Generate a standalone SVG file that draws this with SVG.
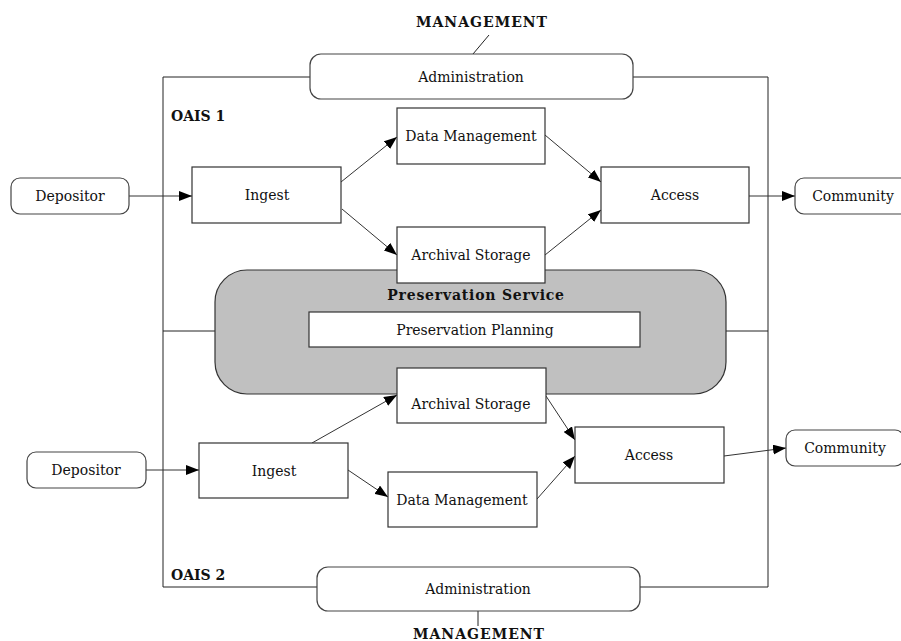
<svg xmlns="http://www.w3.org/2000/svg" width="901" height="641" viewBox="0 0 901 641">
<defs>
<marker id="ah" viewBox="0 0 13 10" refX="13" refY="5" markerWidth="13" markerHeight="10" markerUnits="userSpaceOnUse" orient="auto">
<path d="M0,0 L13,5 L0,10 Z" fill="#000"/>
</marker>
<style>
.bg{fill:#fff}
.box{fill:#fff;stroke:#333;stroke-width:1.2}
.rbox{fill:#fff;stroke:#444;stroke-width:1.2}
.ln{fill:none;stroke:#222;stroke-width:1}
.arr{fill:none;stroke:#333;stroke-width:1;marker-end:url(#ah)}
.t{font-family:"DejaVu Serif","Liberation Serif",serif;font-size:14px;fill:#111;text-anchor:middle}
.b{font-family:"DejaVu Serif","Liberation Serif",serif;font-size:14px;font-weight:bold;fill:#111}
.gray{fill:#c0c0c0;stroke:#333;stroke-width:1.2}
</style>
</defs>
<rect class="bg" x="0" y="0" width="901" height="641"/>
<g id="frame">
<path class="ln" d="M310,77 H163 V587 H317 M633,77 H768 V587 H640"/>
<path class="ln" d="M163,331 H215 M726,331 H768"/>
<text class="b" x="171" y="121">OAIS 1</text>
<text class="b" x="171" y="580">OAIS 2</text>
</g>
<g id="management-top">
<text class="b" x="482" y="27" text-anchor="middle" letter-spacing="1">MANAGEMENT</text>
</g>
<g id="management-bottom">
<text class="b" x="479" y="639" text-anchor="middle" letter-spacing="1">MANAGEMENT</text>
</g>
<g id="connectors">
<path class="ln" d="M489,35 L473,54"/>
<path class="ln" d="M478,611 V626"/>
<path class="arr" d="M129,196 L192,196"/>
<path class="arr" d="M341,182 L397,137"/>
<path class="arr" d="M342,209 L397,255"/>
<path class="arr" d="M545,135 L601,182"/>
<path class="arr" d="M545,255 L601,210"/>
<path class="arr" d="M749,196 L795,196"/>
<path class="arr" d="M146,470 L199,470"/>
<path class="arr" d="M312,443 L397,395"/>
<path class="arr" d="M348,470 L388,497"/>
<path class="arr" d="M546,396 L575,440"/>
<path class="arr" d="M537,499 L575,456"/>
<path class="arr" d="M724,456 L786,448"/>
</g>
<g id="administration-1">
<rect class="rbox" x="310" y="54" width="323" height="45" rx="11"/>
<text class="t" x="471" y="82">Administration</text>
</g>
<g id="depositor-1">
<rect class="rbox" x="11" y="178" width="118" height="36" rx="9"/>
<text class="t" x="70" y="201">Depositor</text>
</g>
<g id="ingest-1">
<rect class="box" x="192" y="167" width="149" height="56"/>
<text class="t" x="267" y="200">Ingest</text>
</g>
<g id="data-management-1">
<rect class="box" x="397" y="108" width="148" height="56"/>
<text class="t" x="471" y="141">Data Management</text>
</g>
<g id="access-1">
<rect class="box" x="601" y="167" width="148" height="56"/>
<text class="t" x="675" y="200">Access</text>
</g>
<g id="community-1">
<rect class="rbox" x="795" y="178" width="118" height="36" rx="9"/>
<text class="t" x="853" y="201">Community</text>
</g>
<g id="preservation-service">
<rect class="gray" x="215" y="270" width="511" height="124" rx="32"/>
<text class="b" x="476" y="300" text-anchor="middle" letter-spacing="0.8">Preservation Service</text>
</g>
<g id="preservation-planning">
<rect class="box" x="309" y="312" width="331" height="35"/>
<text class="t" x="475" y="335">Preservation Planning</text>
</g>
<g id="archival-storage-1">
<rect class="box" x="397" y="227" width="148" height="56"/>
<text class="t" x="471" y="260">Archival Storage</text>
</g>
<g id="archival-storage-2">
<rect class="box" x="397" y="368" width="149" height="55"/>
<text class="t" x="471" y="409">Archival Storage</text>
</g>
<g id="depositor-2">
<rect class="rbox" x="27" y="452" width="119" height="36" rx="9"/>
<text class="t" x="86" y="475">Depositor</text>
</g>
<g id="ingest-2">
<rect class="box" x="199" y="443" width="149" height="55"/>
<text class="t" x="274" y="476">Ingest</text>
</g>
<g id="data-management-2">
<rect class="box" x="388" y="472" width="149" height="55"/>
<text class="t" x="462" y="505">Data Management</text>
</g>
<g id="access-2">
<rect class="box" x="575" y="427" width="149" height="56"/>
<text class="t" x="649" y="460">Access</text>
</g>
<g id="community-2">
<rect class="rbox" x="786" y="430" width="118" height="36" rx="9"/>
<text class="t" x="845" y="453">Community</text>
</g>
<g id="administration-2">
<rect class="rbox" x="317" y="567" width="323" height="44" rx="11"/>
<text class="t" x="478" y="594">Administration</text>
</g>
</svg>
